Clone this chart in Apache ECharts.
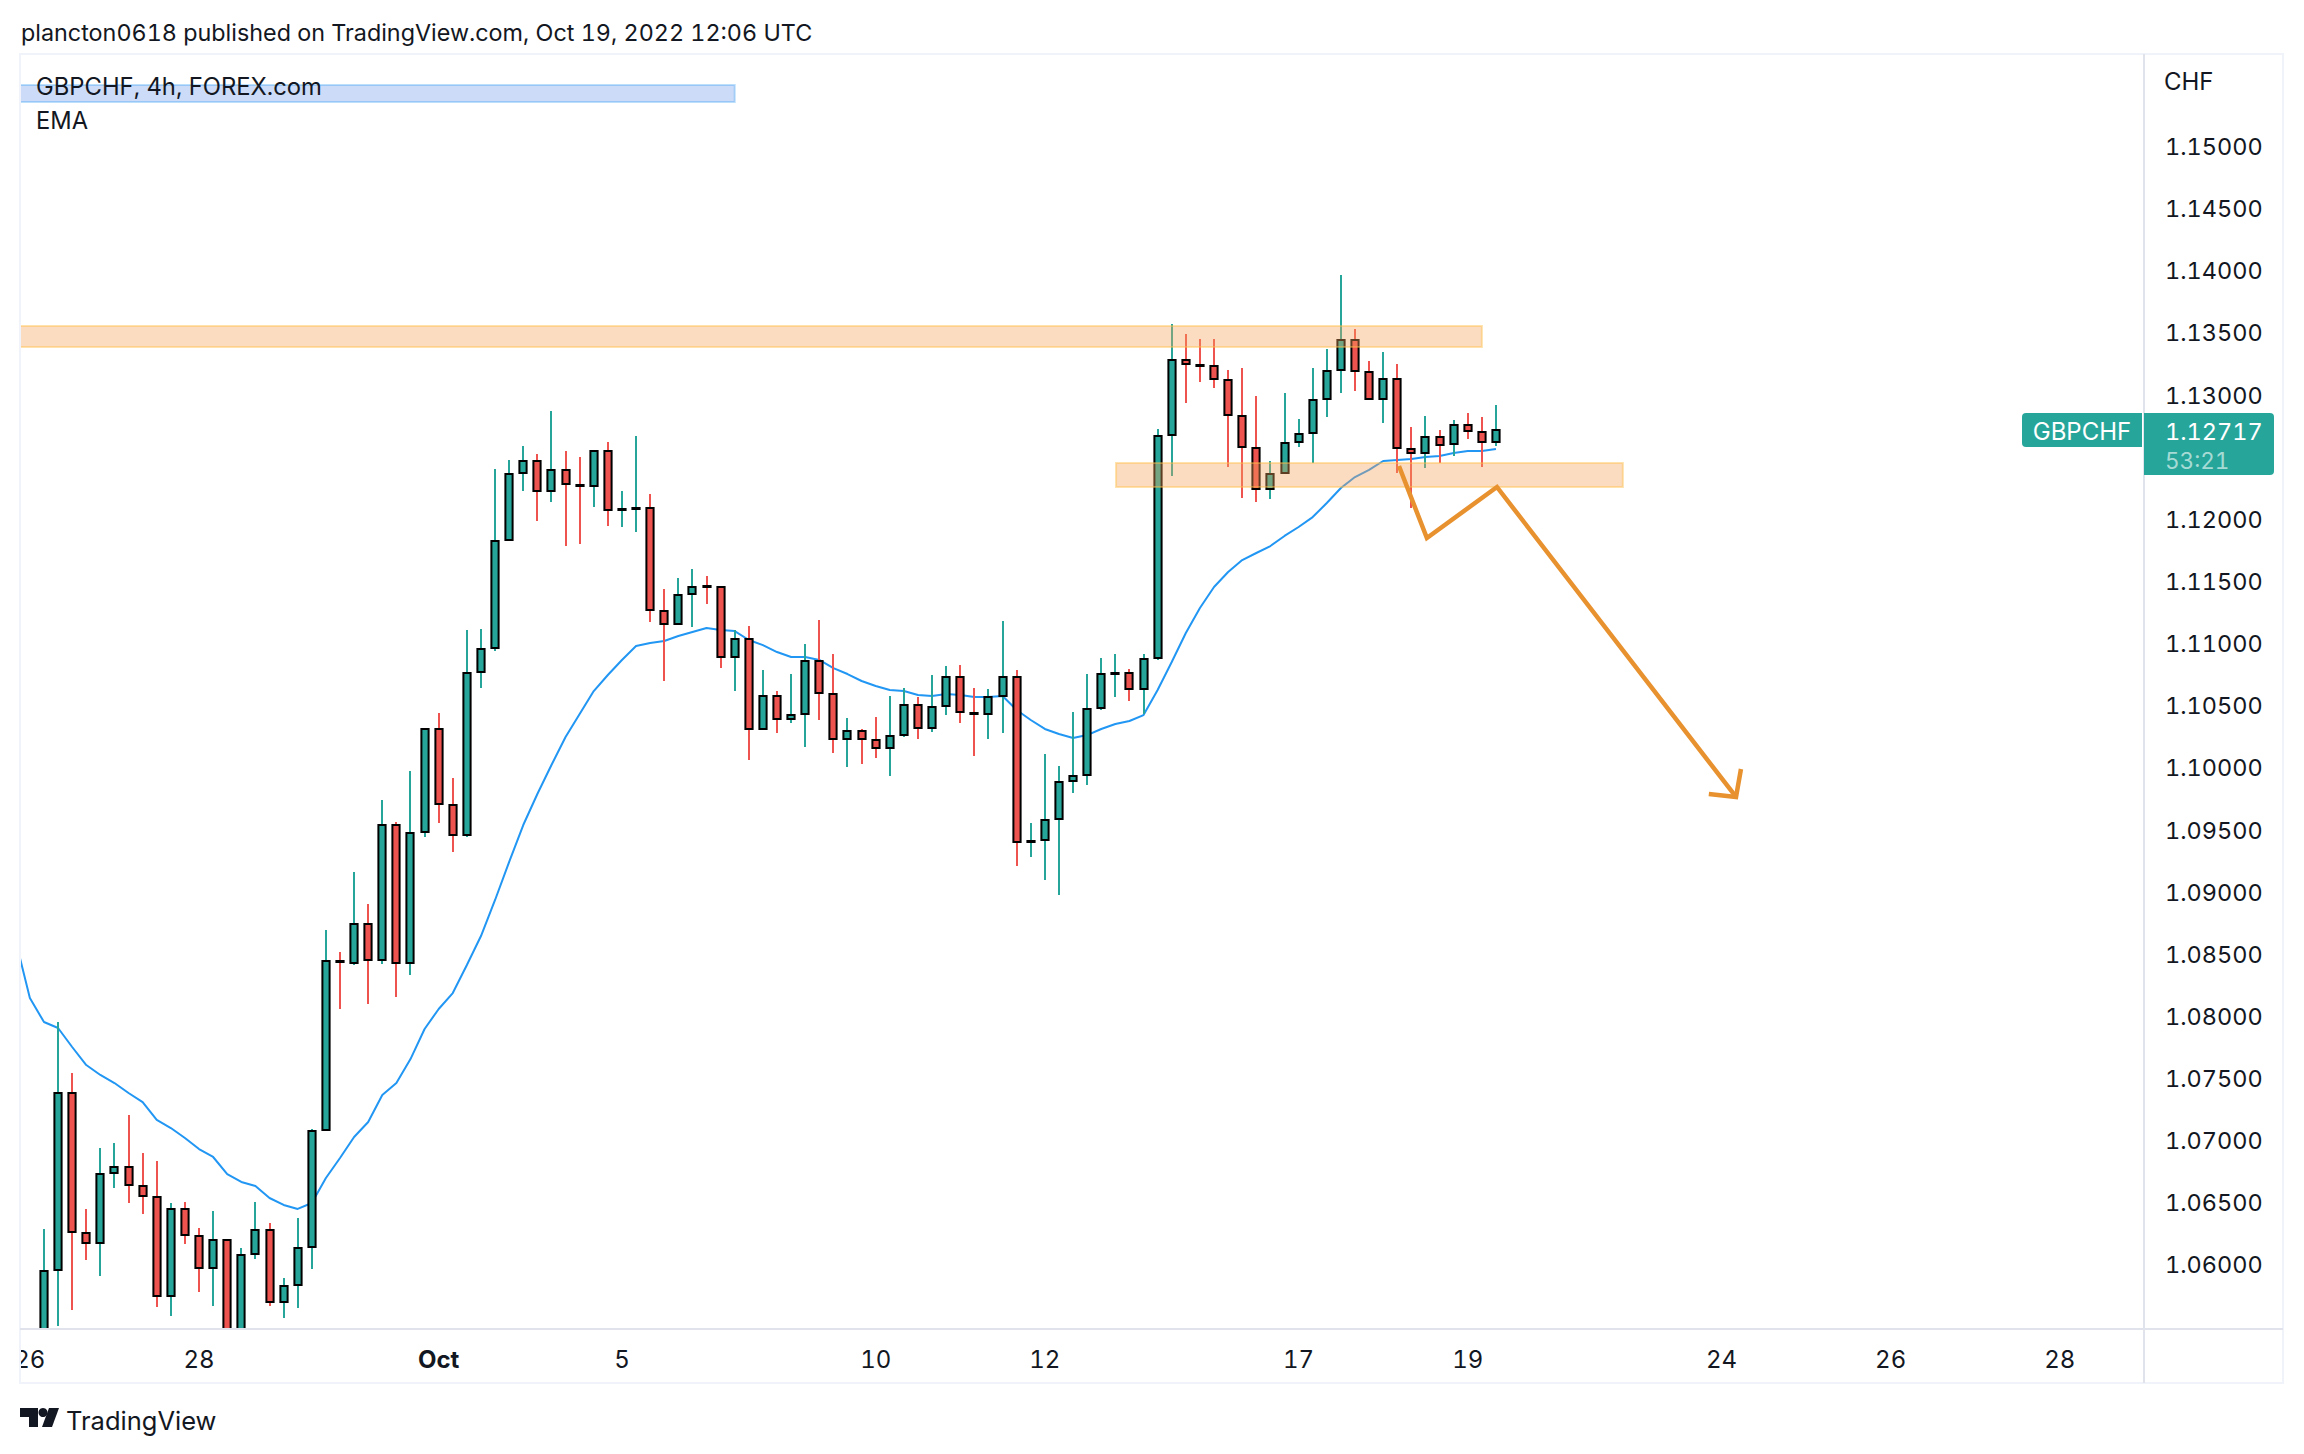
<!DOCTYPE html>
<html>
<head>
<meta charset="utf-8">
<title>GBPCHF</title>
<script src="https://cdn.jsdelivr.net/npm/echarts@6/dist/echarts.min.js"></script>
<style>
html,body{margin:0;padding:0;background:#fff}
#main{width:2304px;height:1454px}
/* the inline font shorthand resets this, hence important */
#main text{font-variant-numeric:tabular-nums !important;font-feature-settings:"tnum" !important}
</style>
</head>
<body>
<div id="main"></div>
<script>
// bar number of the first candle, the two first ones are almost out of the window
var firstBar = -2;

var opens = [1.06595,1.0520,1.0500,1.0596,1.07384,1.06257,1.06177,1.0674,1.06788,1.06636,1.06547,1.05751,1.06451,1.06233,1.05976,1.06201,1.0535,1.06088,1.06282,1.05702,1.05839,1.06145,1.07086,1.08446,
1.0843,1.08744,1.08454,1.0954,1.0843,1.09484,1.10313,1.09701,1.0946,1.10771,1.10964,1.11833,1.12372,1.12469,1.12228,1.12397,1.12276,1.12268,1.12549,1.12071,1.12083,1.12091,1.11262,1.11157,1.11399,1.11463,1.11455,1.10892,1.11037,1.10313,1.10578,1.10393,1.10433,1.1086,1.10594,1.10232,1.10297,1.10224,1.1016,1.10264,1.10506,1.10321,1.10498,1.10731,1.10445,1.10433,1.10578,1.10731,1.09403,
1.0942,1.09588,1.09894,1.09943,1.10482,1.10755,1.10763,1.10634,1.10884,1.12678,1.13282,1.13245,1.13233,1.13121,1.12831,1.12574,1.12244,1.12372,1.12622,1.12694,1.12968,1.13201,1.13443,1.13185,1.12968,1.13129,1.12566,1.12533,1.12662,1.12606,1.12759,1.12702,1.12622];

var highs = [1.06595,1.0535,1.0629,1.07955,1.07545,1.06451,1.06941,1.06982,1.07207,1.06901,1.06837,1.06499,1.06507,1.06298,1.06434,1.06201,1.06137,1.06507,1.06338,1.05895,1.06378,1.07094,1.08695,1.08518,
1.09162,1.08905,1.09741,1.09564,1.09975,1.10313,1.10441,1.09918,1.11109,1.11117,1.12405,1.12477,1.1259,1.12525,1.12871,1.12549,1.12501,1.12549,1.12622,1.12228,1.1267,1.12203,1.11439,1.11528,1.116,1.11544,1.11455,1.11109,1.11141,1.10787,1.10618,1.10755,1.10997,1.1119,1.10916,1.10401,1.10313,1.10409,1.10578,1.10643,1.1057,1.10747,1.1082,1.10828,1.10643,1.10634,1.11182,1.10787,1.09556,
1.10111,1.10015,1.10449,1.10755,1.10884,1.10916,1.10795,1.10916,1.12726,1.13571,1.13491,1.13451,1.13451,1.13201,1.13217,1.12992,1.12469,1.13016,1.12807,1.13217,1.1337,1.13966,1.13531,1.13274,1.13346,1.13249,1.12743,1.12831,1.12718,1.12799,1.12855,1.12823,1.1292];

var lows = [1.0500,1.0500,1.0490,1.05509,1.05638,1.0604,1.05911,1.0662,1.06499,1.0641,1.05662,1.0559,1.06169,1.05783,1.0567,1.0525,1.0525,1.06048,1.0567,1.05574,1.05654,1.05968,1.07086,1.0806,
1.08414,1.081,1.08422,1.08156,1.08333,1.09444,1.09556,1.09323,1.09444,1.10643,1.1094,1.11833,1.12228,1.11986,1.12139,1.11785,1.11801,1.12099,1.11946,1.11938,1.11898,1.11174,1.10699,1.11157,1.11133,1.11318,1.10803,1.10618,1.10063,1.10313,1.1028,1.10361,1.10168,1.10385,1.1012,1.10007,1.10031,1.10079,1.09934,1.10248,1.10232,1.10289,1.10425,1.10361,1.10095,1.10232,1.1028,1.0921,1.09283,
1.09098,1.08977,1.09798,1.09862,1.10466,1.1057,1.10538,1.10433,1.10868,1.12348,1.12936,1.13105,1.13056,1.12421,1.12171,1.12139,1.12163,1.12372,1.12582,1.12453,1.12823,1.13016,1.13032,1.12968,1.12775,1.12372,1.12091,1.12413,1.12453,1.12509,1.12646,1.12421,1.1259];

var closes = [1.0520,1.0530,1.05952,1.07384,1.06265,1.06177,1.06732,1.06788,1.06644,1.06555,1.05751,1.06451,1.06241,1.05976,1.06201,1.0535,1.0608,1.06282,1.05702,1.05831,1.06137,1.07078,1.08446,1.08436,
1.08744,1.08454,1.0954,1.0843,1.09476,1.10313,1.09709,1.0946,1.10763,1.10956,1.11825,1.12364,1.12469,1.12228,1.12397,1.12284,1.12268,1.12549,1.12075,1.12079,1.12091,1.1127,1.11157,1.11391,1.11455,1.11455,1.10892,1.11037,1.10313,1.10578,1.10393,1.10425,1.1086,1.10602,1.10232,1.10297,1.10232,1.1016,1.10256,1.10506,1.10321,1.1049,1.10731,1.10449,1.10437,1.1057,1.10731,1.09403,1.09411,
1.0958,1.09886,1.09934,1.10474,1.10755,1.10763,1.10634,1.10876,1.1267,1.13282,1.13249,1.13237,1.13129,1.12839,1.12582,1.12244,1.12364,1.12614,1.12686,1.1296,1.13193,1.13443,1.13193,1.12968,1.13129,1.12574,1.12533,1.12662,1.12598,1.12759,1.1271,1.12622,1.12717];

var emaValues = [1.08607,1.08148,1.07955,1.07907,1.07754,1.07609,1.07529,1.07464,1.07384,1.07311,1.07167,1.07102,1.07022,1.06933,1.06869,1.06732,1.06668,1.06636,1.06539,1.06483,1.06451,1.06499,1.067,1.06861,
1.0703,1.07151,1.07368,1.07464,1.07657,1.07899,1.0806,1.08188,1.08414,1.08647,1.08937,1.09243,1.0954,1.0979,1.10023,1.10248,1.10433,1.10618,1.10747,1.10868,1.1098,1.11005,1.11021,1.11061,1.11093,1.11125,1.11109,1.11101,1.11029,1.10988,1.10932,1.10892,1.10892,1.10868,1.10803,1.10755,1.10699,1.10659,1.10626,1.10618,1.10586,1.10578,1.10594,1.10586,1.1057,1.1057,1.10578,1.10466,1.10385,
1.10313,1.10272,1.1024,1.10264,1.10313,1.10353,1.10377,1.10425,1.10626,1.10852,1.11085,1.11286,1.11455,1.11576,1.11672,1.11729,1.11785,1.11866,1.11938,1.12018,1.12131,1.12252,1.1234,1.12397,1.12469,1.12477,1.12485,1.12501,1.12509,1.12533,1.12549,1.12549,1.12566];

var xTickBars = [-1,11,28,41,59,71,89,101,119,131,143];
var xTickLabels = ['26','28','Oct','5','10','12','17','19','24','26','28'];
// 1.125 sits under the last price tag, so it has no label
var yTicks = [1.06,1.065,1.07,1.075,1.08,1.085,1.09,1.095,1.10,1.105,1.11,1.115,1.12,1.13,1.135,1.14,1.145,1.15];

// drawn zones: first bar, last bar, upper price, lower price
var resistanceZone = [-2,102,1.13555,1.13386];
var supportZone = [76.05,112,1.12453,1.1226];
var legendBand = [-2,49,1.15494,1.15357];

// hand drawn projection
var arrowBars = [96.12,98.1,103.07,120.03];
var arrowPrices = [1.12429,1.11849,1.1226,1.09766];
var headBars = [118.1,120.03,120.38];
var headPrices = [1.0979,1.09766,1.09991];

var symbolName = 'GBPCHF';
var lastPrice = '1.12717';
var countdown = '53:21';

var FONT = 'Inter';
var INK = '#131722';
var UP = '#26a69a';
var DOWN = '#ef5350';

var candleData = [];
for (var i = 0; i < opens.length; i++) {
    candleData.push([firstBar + i, opens[i], closes[i], lows[i], highs[i]]);
}
var emaData = emaValues.map(function (v, i) { return [firstBar + i, v]; });
var arrowData = arrowBars.map(function (b, i) { return [b, arrowPrices[i]]; });
var headData = headBars.map(function (b, i) { return [b, headPrices[i]]; });

function renderCandle(params, api) {
    var x = api.value(0);
    var open = api.coord([x, api.value(1)]);
    var close = api.coord([x, api.value(2)]);
    var low = api.coord([x, api.value(3)]);
    var high = api.coord([x, api.value(4)]);
    var color = api.value(2) >= api.value(1) ? UP : DOWN;
    var top = Math.round(Math.min(open[1], close[1]));
    var bottom = Math.round(Math.max(open[1], close[1]));
    var cx = Math.round(open[0]);
    return {
        type: 'group',
        children: [{
            type: 'line',
            shape: {x1: cx, y1: high[1], x2: cx, y2: low[1]},
            style: {stroke: color, lineWidth: 2}
        }, {
            type: 'rect',
            shape: {x: cx - 3.6, y: top, width: 7.2, height: Math.max(bottom - top, 1)},
            style: {fill: color, stroke: '#000', lineWidth: 2}
        }]
    };
}

function renderZone(params, api) {
    var a = api.coord([api.value(0), api.value(2)]);
    var b = api.coord([api.value(1), api.value(3)]);
    return {
        type: 'rect',
        shape: {x: a[0], y: a[1], width: b[0] - a[0], height: b[1] - a[1]},
        style: api.style()
    };
}

function zoneSeries(zone, fill, stroke) {
    return {
        type: 'custom',
        renderItem: renderZone,
        data: [zone],
        clip: true,
        silent: true,
        z: 5,
        itemStyle: {color: fill, borderColor: stroke, borderWidth: 2},
        encode: {x: [0, 1], y: [2, 3]}
    };
}

function txt(x, y, text, size, color, extra) {
    var style = {x: x, y: y, text: text, fill: color || INK, font: (size || 24) + 'px ' + FONT, textVerticalAlign: 'middle', verticalAlign: 'middle'};
    for (var k in extra) { style[k] = extra[k]; }
    return {type: 'text', z: 50, style: style};
}

function frameLine(x1, y1, x2, y2, color) {
    return {type: 'line', z: 40, shape: {x1: x1, y1: y1, x2: x2, y2: y2}, style: {stroke: color, lineWidth: 2}};
}

var option = {
    animation: false,
    backgroundColor: '#fff',
    grid: {left: 20, right: 160, top: 54, bottom: 126},
    xAxis: {
        type: 'value',
        min: -1.7,
        max: 148.97,
        axisLine: {show: false},
        axisTick: {show: false},
        splitLine: {show: false},
        axisLabel: {
            customValues: xTickBars,
            margin: 19,
            color: INK,
            fontFamily: FONT,
            fontSize: 24,
            formatter: function (v) {
                var label = xTickLabels[xTickBars.indexOf(v)];
                return label === 'Oct' ? '{month|Oct}' : label;
            },
            rich: {month: {fontFamily: FONT, fontSize: 24, fontWeight: 700, color: INK}}
        }
    },
    yAxis: {
        type: 'value',
        position: 'right',
        min: 1.05493,
        max: 1.15744,
        axisLine: {show: false},
        axisTick: {show: false},
        splitLine: {show: false},
        axisLabel: {
            customValues: yTicks,
            margin: 21,
            padding: [3, 0, 0, 0],
            color: INK,
            fontFamily: FONT,
            fontSize: 23.5,
            formatter: function (v) { return v.toFixed(5); }
        }
    },
    series: [{
        name: 'EMA',
        type: 'line',
        data: emaData,
        showSymbol: false,
        silent: true,
        z: 2,
        lineStyle: {color: '#2196f3', width: 2}
    }, {
        name: symbolName,
        type: 'custom',
        renderItem: renderCandle,
        data: candleData,
        clip: true,
        silent: true,
        z: 3,
        encode: {x: 0, y: [1, 2, 3, 4]}
    },
    zoneSeries(resistanceZone, 'rgba(245,162,92,0.38)', 'rgba(255,190,70,0.45)'),
    zoneSeries(supportZone, 'rgba(245,162,92,0.38)', 'rgba(255,190,70,0.45)'),
    zoneSeries(legendBand, 'rgba(41,110,226,0.24)', 'rgba(33,150,243,0.3)'),
    {
        type: 'line',
        data: arrowData,
        showSymbol: false,
        silent: true,
        z: 6,
        lineStyle: {color: '#e8912f', width: 4.5, join: 'miter'}
    }, {
        type: 'line',
        data: headData,
        showSymbol: false,
        silent: true,
        z: 6,
        lineStyle: {color: '#e8912f', width: 4.5, join: 'miter'}
    }],
    graphic: {elements: [
        // hides the part of the first date label that falls off the pane
        {type: 'rect', z: 30, shape: {x: 0, y: 1331, width: 20, height: 50}, style: {fill: '#fff'}},
        {type: 'rect', z: 40, shape: {x: 20, y: 54, width: 2263, height: 1329}, style: {fill: 'none', stroke: '#f0f3fa', lineWidth: 2}},
        frameLine(2144, 54, 2144, 1383, '#e0e3eb'),
        frameLine(20, 1329, 2283, 1329, '#e0e3eb'),
        txt(21, 32, 'plancton0618 published on TradingView.com, Oct 19, 2022 12:06 UTC', 23.35),
        txt(36, 86, 'GBPCHF, 4h, FOREX.com', 23.8),
        txt(36, 120, 'EMA', 23.7),
        txt(2164, 81, 'CHF', 24),
        {type: 'rect', z: 45, shape: {x: 2022, y: 413, width: 120, height: 34, r: [4, 0, 0, 4]}, style: {fill: UP}},
        {type: 'rect', z: 45, shape: {x: 2144, y: 413, width: 130, height: 62, r: [0, 4, 4, 0]}, style: {fill: UP}},
        txt(2082, 431, symbolName, 24, '#fff', {textAlign: 'center', align: 'center'}),
        txt(2165, 431, lastPrice, 23.5, '#fff'),
        txt(2165, 460, countdown, 22.5, 'rgba(255,255,255,0.6)'),
        // TradingView mark
        {type: 'polygon', z: 50, shape: {points: [[20, 1408], [38, 1408], [38, 1427], [29, 1427], [29, 1417], [20, 1417]]}, style: {fill: INK}},
        {type: 'circle', z: 50, shape: {cx: 43, cy: 1412.5, r: 4.5}, style: {fill: INK}},
        {type: 'polygon', z: 50, shape: {points: [[49, 1408], [59, 1408], [52, 1427], [42, 1427]]}, style: {fill: INK}},
        txt(66, 1420, 'TradingView', 25.5)
    ]}
};

// svg so the tabular digits set in the css reach the labels
var chart = echarts.init(document.getElementById('main'), null, {renderer: 'svg'});
chart.setOption(option);
</script>
</body>
</html>
